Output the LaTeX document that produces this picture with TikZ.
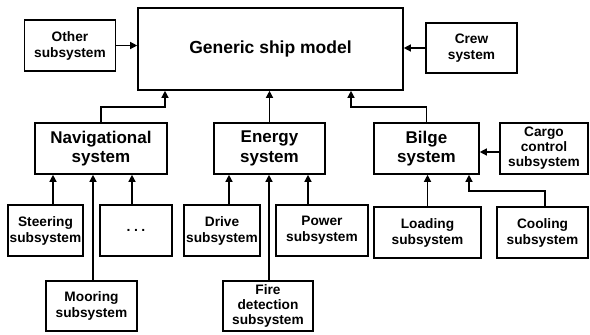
\documentclass[tikz,border=0pt]{standalone}
\usepackage{fontspec}
\setmainfont{Liberation Sans}
\usetikzlibrary{arrows.meta}
\tikzset{
  box/.style={draw, line width=1.6pt, align=center, inner sep=1pt, font=\bfseries},
  big/.style={box, font=\fontsize{17.5}{21}\selectfont\bfseries},
  mid/.style={box, font=\fontsize{17}{19.5}\selectfont\bfseries},
  sub/.style={box, font=\fontsize{13.7}{16}\selectfont\bfseries},
  arr/.style={line width=1.3pt, -{Triangle[length=7pt,width=7pt]}}
}
\begin{document}
\begin{tikzpicture}[x=1pt,y=-1pt]
\useasboundingbox (0,0) rectangle (590,335);
% top row
\node[big, minimum width=265, minimum height=82] (gen) at (270.5,49) {Generic ship model};
\node[sub, minimum width=91, minimum height=51] (other) at (70,45.5) {Other\\subsystem};
\node[sub, minimum width=91, minimum height=50] (crew) at (471.5,48) {Crew\\system};
% middle row
\node[mid, minimum width=132, minimum height=51] (nav) at (101,148.5) {Navigational\\system};
\node[mid, minimum width=111, minimum height=51] (energy) at (269.5,148.5) {Energy\\system};
\node[mid, minimum width=105, minimum height=51] (bilge) at (426.5,148.5) {Bilge\\system};
\node[sub, minimum width=88, minimum height=51, font=\fontsize{13.7}{15}\selectfont\bfseries] (cargo) at (544,148.5) {Cargo\\control\\subsystem};
% lower row
\node[sub, minimum width=75, minimum height=51] (steer) at (45.5,230.5) {Steering\\subsystem};
\node[sub, minimum width=72, minimum height=51, font=\fontsize{14}{16}\selectfont\bfseries] (dots) at (136,230.5) {.\hspace{3.5pt}.\hspace{3.5pt}.};
\node[sub, minimum width=76, minimum height=51] (drive) at (222,230.5) {Drive\\subsystem};
\node[sub, minimum width=92, minimum height=51] (power) at (322,230.5) {Power\\subsystem};
\node[sub, minimum width=107, minimum height=51] (loading) at (427.5,232.5) {Loading\\subsystem};
\node[sub, minimum width=91, minimum height=51] (cooling) at (542.5,232.5) {Cooling\\subsystem};
% bottom row
\node[sub, minimum width=91, minimum height=50] (mooring) at (91.5,306) {Mooring\\subsystem};
\node[sub, minimum width=90, minimum height=50, font=\fontsize{13.7}{15}\selectfont\bfseries] (fire) at (268,306) {Fire\\detection\\subsystem};
% junction coordinates
\coordinate (j1) at (165,107);
\coordinate (j2) at (351,107);
\coordinate (j3) at (469,191);
% connectors to generic model
\draw[arr] (other.east) -- (other.east -| gen.west);
\draw[arr] (crew.west) -- (crew.west -| gen.east);
\draw[arr] (nav.north) |- (j1) -- (j1 |- gen.south);
\draw[arr] (energy.north) -- (energy.north |- gen.south);
\draw[arr] (bilge.north) |- (j2) -- (j2 |- gen.south);
% navigational
\draw[arr] ([xshift=7.5]steer.north) -- ([xshift=7.5]steer.north |- nav.south);
\draw[arr] ([xshift=1.5]mooring.north) -- ([xshift=1.5]mooring.north |- nav.south);
\draw[arr] ([xshift=-4]dots.north) -- ([xshift=-4]dots.north |- nav.south);
% energy
\draw[arr] ([xshift=7]drive.north) -- ([xshift=7]drive.north |- energy.south);
\draw[arr] ([xshift=1]fire.north) -- ([xshift=1]fire.north |- energy.south);
\draw[arr] ([xshift=-14]power.north) -- ([xshift=-14]power.north |- energy.south);
% bilge
\draw[arr] (loading.north) -- (loading.north |- bilge.south);
\draw[arr] ([xshift=2.5]cooling.north) |- (j3) -- (j3 |- bilge.south);
\draw[arr] ([yshift=-3.5]cargo.west) -- ([yshift=-3.5]cargo.west -| bilge.east);
\end{tikzpicture}
\end{document}
